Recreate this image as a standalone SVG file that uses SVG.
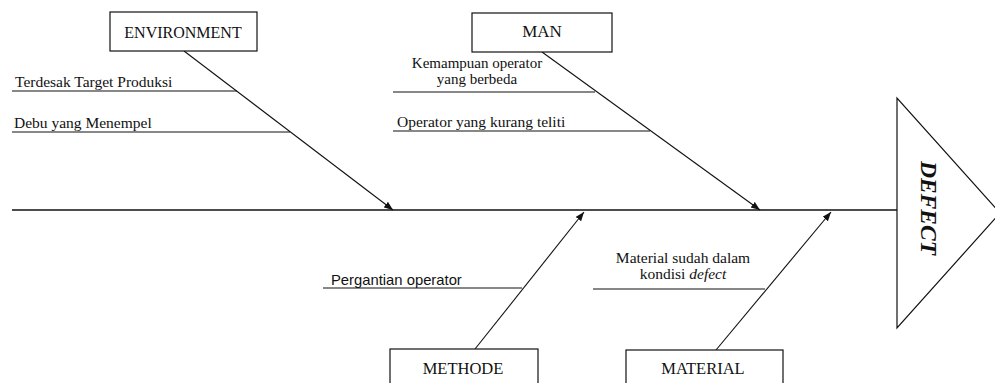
<svg xmlns="http://www.w3.org/2000/svg" width="995" height="383" viewBox="0 0 995 383">
<style>
.ln{stroke:#111;stroke-width:1.1;fill:none}
.box{fill:#fff;stroke:#111;stroke-width:1.2}
.s{font-family:"Liberation Serif","Times New Roman",serif;fill:#111}
.a{font-family:"Liberation Sans",Arial,sans-serif;fill:#111}
</style>
<defs>
<marker id="ah" markerUnits="userSpaceOnUse" markerWidth="10" markerHeight="8" refX="9" refY="3.5" orient="auto">
<path d="M0,0 L9,3.5 L0,7 z" fill="#111"/>
</marker>
</defs>
<rect width="995" height="383" fill="#fff"/>
<g id="connectors">
<line class="ln" x1="12" y1="210" x2="897" y2="210" style="stroke-width:1.5"/>
<line class="ln" x1="184" y1="51" x2="393" y2="210" marker-end="url(#ah)"/>
<line class="ln" x1="542" y1="52" x2="760" y2="210" marker-end="url(#ah)"/>
<line class="ln" x1="475" y1="349" x2="584" y2="212" marker-end="url(#ah)"/>
<line class="ln" x1="716" y1="350" x2="831" y2="212" marker-end="url(#ah)"/>
<line class="ln" x1="12" y1="91" x2="237" y2="91"/>
<line class="ln" x1="12" y1="132" x2="290" y2="132"/>
<line class="ln" x1="393" y1="92" x2="595" y2="92"/>
<line class="ln" x1="393" y1="131" x2="650" y2="131"/>
<line class="ln" x1="323" y1="288" x2="522" y2="288"/>
<line class="ln" x1="593" y1="289" x2="765" y2="289"/>
</g>
<g id="environment">
<rect class="box" x="110" y="12" width="147" height="39"/>
<text class="s" x="183" y="38" font-size="16" text-anchor="middle">ENVIRONMENT</text>
</g>
<g id="man">
<rect class="box" x="472" y="13" width="140" height="39"/>
<text class="s" x="542" y="37" font-size="17" text-anchor="middle">MAN</text>
</g>
<g id="methode">
<rect class="box" x="390" y="349" width="148" height="50"/>
<text class="s" x="463" y="374" font-size="16.5" text-anchor="middle">METHODE</text>
</g>
<g id="material">
<rect class="box" x="626" y="350" width="157" height="50"/>
<text class="s" x="703" y="374" font-size="16.5" text-anchor="middle">MATERIAL</text>
</g>
<g id="defect">
<path d="M897,98 L897,328 L1000,213 Z" fill="#fff" stroke="#111" stroke-width="1.2"/>
<text class="s" transform="translate(921,208) rotate(90)" x="0" y="0" font-size="23.5" font-weight="bold" font-style="italic" text-anchor="middle">DEFECT</text>
</g>
<g id="cause-terdesak">
<text class="s" x="15" y="87" font-size="15.5">Terdesak Target Produksi</text>
</g>
<g id="cause-debu">
<text class="s" x="14" y="128" font-size="15.5">Debu yang Menempel</text>
</g>
<g id="cause-kemampuan">
<text class="s" x="477" y="68" font-size="15" text-anchor="middle">Kemampuan operator</text>
<text class="s" x="477" y="84" font-size="15" text-anchor="middle">yang berbeda</text>
</g>
<g id="cause-operator">
<text class="s" x="397" y="127" font-size="15.5">Operator yang kurang teliti</text>
</g>
<g id="cause-pergantian">
<text class="a" x="331" y="285" font-size="14.8">Pergantian operator</text>
</g>
<g id="cause-material">
<text class="s" x="683" y="263" font-size="15.5" text-anchor="middle">Material sudah dalam</text>
<text class="s" x="683" y="279" font-size="15.5" text-anchor="middle">kondisi <tspan font-style="italic">defect</tspan></text>
</g>
</svg>
